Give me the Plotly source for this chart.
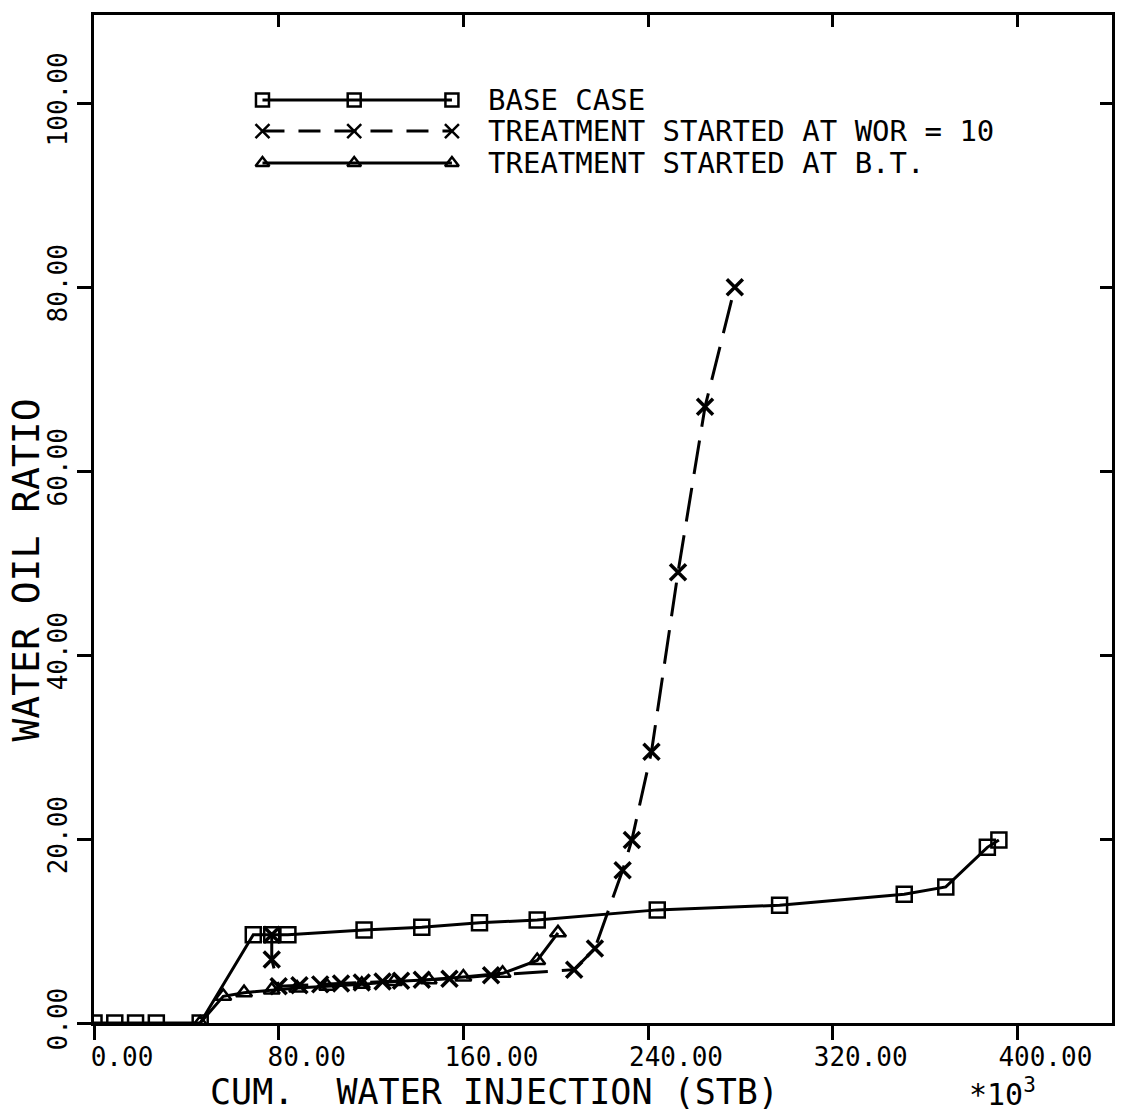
import plotly.graph_objects as go

# Cumulative water injection (thousand STB) vs water-oil ratio
base_x = [0, 9, 18, 27, 46, 69, 77, 84, 117, 142, 167, 192, 244, 297, 351, 369, 387, 392]
base_y = [0, 0, 0, 0, 0, 9.6, 9.6, 9.6, 10.1, 10.4, 10.9, 11.2, 12.3, 12.8, 14.0, 14.8, 19.1, 19.9]

wor10_x = [77, 77, 80, 89, 98, 107, 116, 125, 133, 142, 154, 172, 208, 217, 229, 233, 241.5, 253, 264.7, 277.6]
wor10_y = [9.6, 6.9, 4.0, 4.1, 4.2, 4.3, 4.4, 4.5, 4.6, 4.7, 4.8, 5.2, 5.8, 8.1, 16.6, 19.9, 29.5, 49.0, 67.0, 80.0]

bt_x = [46, 56, 65, 77, 88, 101, 116, 130, 145, 160, 177, 192, 201]
bt_y = [0, 2.9, 3.3, 3.6, 3.8, 4.0, 4.2, 4.5, 4.7, 5.0, 5.4, 6.8, 9.8]

x_ticks = [0, 80, 160, 240, 320, 400]
x_tick_text = ["0.00", "80.00", "160.00", "240.00", "320.00", "400.00"]
y_ticks = [0, 20, 40, 60, 80, 100]
y_tick_text = ["0.00", "20.00", "40.00", "60.00", "80.00", "100.00"]

series_names = ["BASE CASE", "TREATMENT STARTED AT WOR = 10", "TREATMENT STARTED AT B.T."]
x_title = "CUM.  WATER INJECTION (STB)"
y_title = "WATER OIL RATIO"
x_scale_note = "*10<sup>3</sup>"

FONT = "DejaVu Sans Mono"
INK = "black"
X_RANGE = [0, 441]
Y_RANGE = [0, 109.6]

fig = go.Figure()

fig.add_trace(go.Scatter(
    x=base_x, y=base_y, mode="lines+markers", name=series_names[0],
    line=dict(color=INK, width=3),
    marker=dict(symbol="square-open", size=15, color=INK, line=dict(width=2.5, color=INK)),
))
fig.add_trace(go.Scatter(
    x=wor10_x, y=wor10_y, mode="lines+markers", name=series_names[1],
    line=dict(color=INK, width=3, dash="34px,14px"),
    marker=dict(symbol="x-thin-open", size=16, color=INK, line=dict(width=3.5, color=INK)),
))
fig.add_trace(go.Scatter(
    x=bt_x, y=bt_y, mode="lines+markers", name=series_names[2],
    line=dict(color=INK, width=3),
    marker=dict(symbol="triangle-up-open", size=14, color=INK, line=dict(width=2.5, color=INK)),
))

# empty trace so the top/right tick axes get drawn
fig.add_trace(go.Scatter(x=[], y=[], xaxis="x2", yaxis="y2", showlegend=False, hoverinfo="skip"))

# Legend keys drawn on a hidden overlay axis spanning the plot area (0..1 both ways)
key_x = [0.1655, 0.2556, 0.3516]
key_rows = [0.9157, 0.8849, 0.8532]
key_styles = [
    (dict(color=INK, width=3), "square-open", 13),
    (dict(color=INK, width=3, dash="22px,14px"), "x-thin-open", 14),
    (dict(color=INK, width=3), "triangle-up-open", 12),
]
for row_y, (line_style, sym, size) in zip(key_rows, key_styles):
    fig.add_trace(go.Scatter(
        x=key_x, y=[row_y] * 3, mode="lines+markers", showlegend=False,
        xaxis="x3", yaxis="y3", hoverinfo="skip",
        line=line_style,
        marker=dict(symbol=sym, size=size, color=INK, line=dict(width=2.5, color=INK)),
    ))

annotations = []
for row_y, name in zip(key_rows, series_names):
    annotations.append(dict(
        x=0.3849, y=row_y, xref="x3", yref="y3", text=name, showarrow=False,
        xanchor="left", yanchor="middle", font=dict(family=FONT, size=29, color=INK),
    ))
# axis titles and the x scale factor
annotations.append(dict(
    x=0.393, y=-0.0903, xref="paper", yref="paper", text=x_title, showarrow=False,
    xanchor="center", yanchor="bottom", font=dict(family=FONT, size=35, color=INK),
))
annotations.append(dict(
    x=-0.0666, y=0.449, xref="paper", yref="paper", text=y_title, showarrow=False,
    textangle=-90, xanchor="center", yanchor="middle",
    font=dict(family=FONT, size=38, color=INK),
))
annotations.append(dict(
    x=0.892, y=-0.0903, xref="paper", yref="paper", text=x_scale_note,
    showarrow=False, xanchor="center", yanchor="bottom",
    font=dict(family=FONT, size=30, color=INK),
))

axis_common = dict(showgrid=False, zeroline=False, color=INK, linecolor=INK)

fig.update_layout(
    width=1124, height=1115,
    margin=dict(l=94, r=9, t=15, b=92),
    paper_bgcolor="white", plot_bgcolor="white",
    showlegend=False,
    font=dict(family=FONT, color=INK),
    xaxis=dict(
        **axis_common, range=X_RANGE, tickvals=x_ticks, ticktext=x_tick_text,
        showline=True, linewidth=3, mirror=True,
        ticks="outside", ticklen=14, tickwidth=2.5, tickcolor=INK,
        tickfont=dict(family=FONT, size=26), ticklabelshift=28, ticklabelstandoff=-5,
    ),
    yaxis=dict(
        **axis_common, range=Y_RANGE, tickvals=y_ticks, ticktext=y_tick_text,
        showline=True, linewidth=3, mirror=True,
        ticks="outside", ticklen=14, tickwidth=2.5, tickcolor=INK,
        tickangle=-90, tickfont=dict(family=FONT, size=26),
    ),
    # inward ticks along the top and right frame
    xaxis2=dict(
        **axis_common, range=X_RANGE, tickvals=x_ticks, overlaying="x", side="top",
        anchor="y2", showticklabels=False, showline=False,
        ticks="inside", ticklen=12, tickwidth=2.5, tickcolor=INK,
    ),
    yaxis2=dict(
        **axis_common, range=Y_RANGE, tickvals=y_ticks, overlaying="y", side="right",
        anchor="x2", showticklabels=False, showline=False,
        ticks="inside", ticklen=12, tickwidth=2.5, tickcolor=INK,
    ),
    xaxis3=dict(range=[0, 1], domain=[0, 1], anchor="y3", overlaying="x", visible=False, fixedrange=True),
    yaxis3=dict(range=[0, 1], domain=[0, 1], anchor="x3", overlaying="y", visible=False, fixedrange=True),
    annotations=annotations,
)

fig.write_html("out.html")
